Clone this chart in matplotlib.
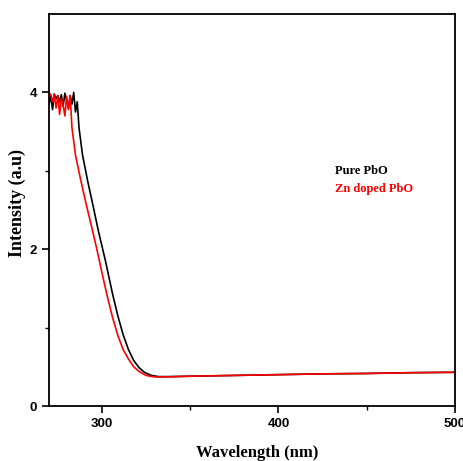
import numpy as np
import matplotlib.pyplot as plt

# absorption spectra, wavelength in nm vs intensity (a.u.)
wl_pure = [270, 271, 272, 273, 274, 275, 276, 277, 278, 279, 280, 281, 282,
           283, 284, 285, 286, 287, 289, 292, 295, 298, 302, 306, 309, 312,
           315, 318, 321, 324, 328, 332, 338, 350, 375, 400, 425, 450, 475,
           500]
int_pure = [3.85, 3.95, 3.78, 3.98, 3.92, 3.96, 3.88, 3.97, 3.82, 3.99, 3.90,
            3.80, 3.96, 3.85, 4.00, 3.75, 3.88, 3.55, 3.20, 2.86, 2.55, 2.23,
            1.85, 1.43, 1.15, 0.91, 0.72, 0.58, 0.49, 0.43, 0.39, 0.375,
            0.375, 0.38, 0.39, 0.40, 0.41, 0.415, 0.425, 0.43]

wl_zn = [270, 271, 272, 273, 274, 275, 276, 277, 278, 279, 280, 281, 282,
         283, 285, 288, 291, 294, 297, 300, 303, 306, 309, 312, 315, 318,
         321, 325, 330, 338, 350, 375, 400, 425, 450, 475, 500]
int_zn = [3.95, 3.98, 3.88, 3.97, 3.80, 3.96, 3.72, 3.92, 3.84, 3.70, 3.95,
          3.78, 3.96, 3.55, 3.20, 2.88, 2.58, 2.30, 2.01, 1.70, 1.40, 1.13,
          0.90, 0.72, 0.60, 0.50, 0.44, 0.39, 0.37, 0.372, 0.38, 0.39, 0.40,
          0.41, 0.415, 0.425, 0.43]

fig = plt.figure(figsize=(4.64, 4.61), dpi=100)
ax = fig.add_axes([0.1056, 0.1193, 0.875, 0.8503])

ax.plot(wl_pure, int_pure, color='black', lw=1.2)
ax.plot(wl_zn, int_zn, color='red', lw=1.2)

ax.set_xlim(270, 500)
ax.set_ylim(0, 5)
ax.set_xticks([300, 400, 500])
ax.set_xticks([350, 450], minor=True)
ax.set_yticks([0, 2, 4])
ax.set_yticks([1, 3], minor=True)
ax.tick_params(which='major', direction='out', length=5, width=1.2)
ax.tick_params(which='minor', direction='out', length=3, width=1.0)
for lab in ax.get_xticklabels() + ax.get_yticklabels():
    lab.set_fontfamily('Liberation Sans')
    lab.set_fontweight('bold')
    lab.set_fontsize(9.5)
for sp in ax.spines.values():
    sp.set_linewidth(1.3)

ax.set_xlabel('Wavelength (nm)', family='Liberation Serif', weight='bold',
              fontsize=12)
ax.xaxis.set_label_coords(0.512, -0.1)
ax.set_ylabel('Intensity (a.u)', family='Liberation Serif', weight='bold',
              fontsize=13)
ax.yaxis.set_label_coords(-0.057, 0.518)

ax.text(0.704, 0.592, 'Pure PbO', transform=ax.transAxes, color='black',
        family='Liberation Serif', weight='bold', fontsize=9)
ax.text(0.704, 0.547, 'Zn doped PbO', transform=ax.transAxes, color='red',
        family='Liberation Serif', weight='bold', fontsize=9)

fig.savefig('out.png', dpi=100)
